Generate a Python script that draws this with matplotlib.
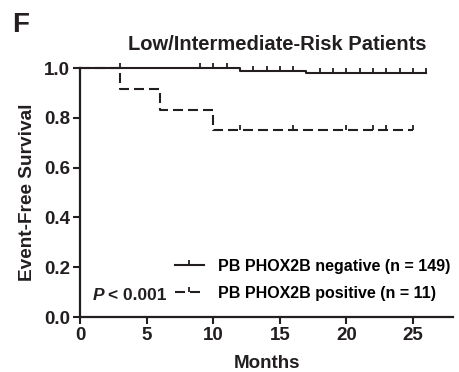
import numpy as np
import matplotlib
matplotlib.use("Agg")
import matplotlib.pyplot as plt
from matplotlib.path import Path
from matplotlib.lines import Line2D

plt.rcParams["font.family"] = ["Liberation Sans", "DejaVu Sans"]
plt.rcParams["font.weight"] = "bold"

# step curves (time in months, event-free survival)
neg_t = [0, 12, 17, 26]
neg_s = [1.0, 0.99, 0.98, 0.98]
neg_cens = [3, 9, 10, 11, 13, 14, 15, 16, 18, 19, 20, 21, 22, 23, 24, 25, 26]

pos_t = [0, 3, 6, 10, 25]
pos_s = [1.0, 0.917, 0.833, 0.75, 0.75]
pos_cens = [12, 16, 20, 22, 23, 25]

neg_label = "PB PHOX2B negative (n = 149)"
pos_label = "PB PHOX2B positive (n = 11)"
p_text = "< 0.001"

x_ticks = [0, 5, 10, 15, 20, 25]
y_ticks = [0.0, 0.2, 0.4, 0.6, 0.8, 1.0]

INK = "#231f20"

# censor tick pointing up
tick_up = Path([(0, 0), (0, 1)], [Path.MOVETO, Path.LINETO])


def surv_at(times, surv, t):
    idx = np.searchsorted(times, t, side="right") - 1
    return surv[idx]


fig = plt.figure(figsize=(4.59, 3.72), dpi=100)
ax = fig.add_axes([0.1743, 0.1478, 0.8127, 0.6692])

lw = 1.5
ax.step(neg_t, neg_s, where="post", color=INK, lw=lw, clip_on=False)
ax.plot(neg_cens, [surv_at(neg_t, neg_s, t) for t in neg_cens], ls="none",
        marker=tick_up, ms=7.5, mew=1.3, color=INK, clip_on=False)

ax.step(pos_t, pos_s, where="post", color=INK, lw=lw, dashes=(4.8, 2.4),
        clip_on=False)
ax.plot(pos_cens, [surv_at(pos_t, pos_s, t) for t in pos_cens], ls="none",
        marker=tick_up, ms=7.5, mew=1.3, color=INK, clip_on=False)

ax.set_xlim(0, 28)
ax.set_ylim(0, 1.0)
ax.set_xticks(x_ticks)
ax.set_yticks(y_ticks)
ax.set_yticklabels([f"{v:.1f}" for v in y_ticks])
ax.tick_params(direction="out", length=5, width=1.5, labelsize=13.5, pad=2,
               colors=INK)
for s in ["top", "right"]:
    ax.spines[s].set_visible(False)
for s in ["left", "bottom"]:
    ax.spines[s].set_linewidth(1.6)
    ax.spines[s].set_color(INK)

ax.set_xlabel("Months", fontsize=13.5, fontweight="bold", labelpad=8, color=INK)
ax.set_ylabel("Event-Free Survival", fontsize=13.7, fontweight="bold", labelpad=6,
              color=INK)
ax.set_title("Low/Intermediate-Risk Patients", fontsize=14.5, fontweight="bold",
             pad=13, x=0.53, color=INK)

handles = [
    Line2D([], [], color=INK, lw=lw, marker=tick_up, ms=7.5, mew=1.3),
    Line2D([], [], color=INK, lw=lw, dashes=(4.8, 2.4), marker=tick_up,
           ms=7.5, mew=1.3),
]
ax.legend(handles, [neg_label, pos_label], loc="lower right", frameon=False,
          fontsize=11.5, numpoints=1, handlelength=1.8, handletextpad=0.9,
          borderaxespad=0.0, labelspacing=0.75, bbox_to_anchor=(1.01, 0.04))

p_lab = ax.text(0.035, 0.07, "P", transform=ax.transAxes, fontsize=12.5,
                fontweight="bold", fontstyle="italic", color=INK)
ax.annotate(p_text, xy=(1, 0), xycoords=p_lab, xytext=(2.5, 0),
            textcoords="offset points", fontsize=12.5, fontweight="bold",
            color=INK, va="bottom")

fig.text(0.026, 0.914, "F", fontsize=20, fontweight="bold", color=INK,
         va="baseline")

fig.savefig("out.png", dpi=100)
